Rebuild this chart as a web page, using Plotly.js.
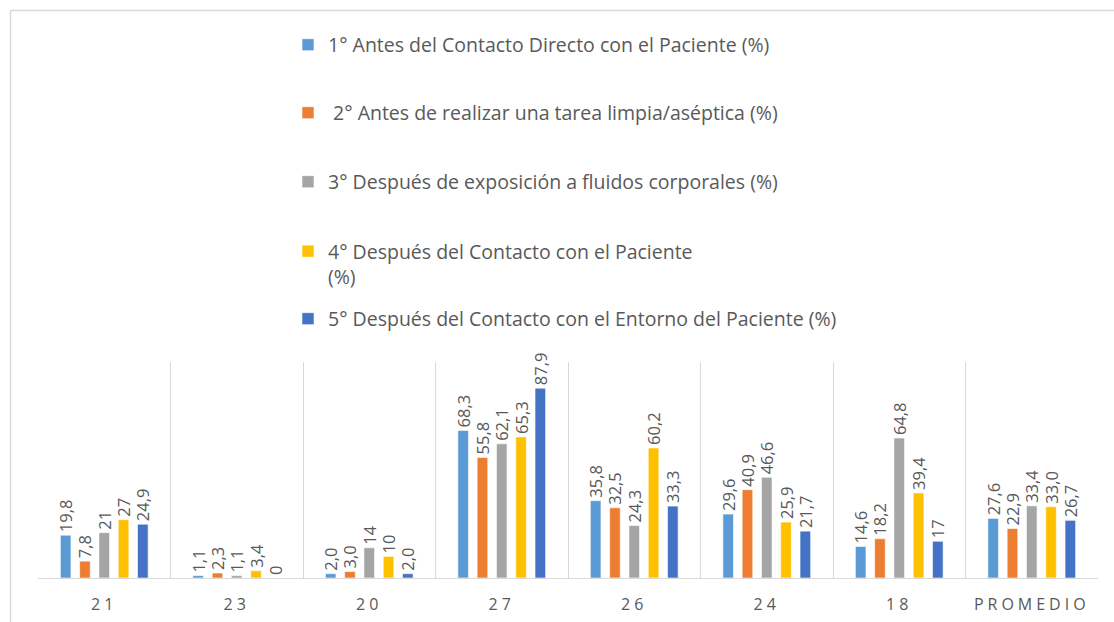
<!DOCTYPE html>
<html>
<head>
<meta charset="utf-8">
<script src="https://cdn.plot.ly/plotly-3.0.1.min.js"></script>
<style>
  html, body { margin: 0; padding: 0; background: #ffffff; }
  #chart { width: 1114px; height: 622px; }
</style>
</head>
<body>
<div id="chart"></div>
<script>
// Categories (x axis)
const categories = ['21', '23', '20', '27', '26', '24', '18', 'PROMEDIO'];

// Series names
const seriesNames = [
  '1° Antes del Contacto Directo con el Paciente (%)',
  '\u00a02° Antes de realizar una tarea limpia/aséptica (%)',
  '3° Después de exposición a fluidos corporales (%)',
  '4° Después del Contacto con el Paciente<br>(%)',
  '5° Después del Contacto con el Entorno del Paciente (%)'
];

// Series values
const s1 = [19.8, 1.1, 2.0, 68.3, 35.8, 29.6, 14.6, 27.6];
const s2 = [7.8, 2.3, 3.0, 55.8, 32.5, 40.9, 18.2, 22.9];
const s3 = [21, 1.1, 14, 62.1, 24.3, 46.6, 64.8, 33.4];
const s4 = [27, 3.4, 10, 65.3, 60.2, 25.9, 39.4, 33.0];
const s5 = [24.9, 0, 2.0, 87.9, 33.3, 21.7, 17, 26.7];

// Data labels as printed in the chart
const l1 = ['19,8', '1,1', '2,0', '68,3', '35,8', '29,6', '14,6', '27,6'];
const l2 = ['7,8', '2,3', '3,0', '55,8', '32,5', '40,9', '18,2', '22,9'];
const l3 = ['21', '1,1', '14', '62,1', '24,3', '46,6', '64,8', '33,4'];
const l4 = ['27', '3,4', '10', '65,3', '60,2', '25,9', '39,4', '33,0'];
const l5 = ['24,9', '0', '2,0', '87,9', '33,3', '21,7', '17', '26,7'];

const values = [s1, s2, s3, s4, s5];
const labels = [l1, l2, l3, l4, l5];
const colors = ['#5B9BD5', '#ED7D31', '#A5A5A5', '#FFC000', '#4472C4'];

const FONT = '"Open Sans", "Noto Sans", sans-serif';
const legendIds = ['legend', 'legend2', 'legend3', 'legend4', 'legend5'];

const traces = values.map((v, i) => ({
  type: 'bar',
  name: seriesNames[i],
  x: categories,
  y: v,
  text: labels[i],
  textposition: 'outside',
  textangle: -90,
  constraintext: 'none',
  cliponaxis: false,
  textfont: { family: FONT, size: 16.5, color: '#595959' },
  marker: { color: colors[i], line: { color: '#ffffff', width: 0.6 } },
  legend: legendIds[i],
  hoverinfo: 'x+y+name'
}));

// legend vertical positions (px from top of the figure)
const legendTops = [45, 113, 182, 245, 319];
const H = 622;
const legendLayout = {};
legendIds.forEach((id, i) => {
  legendLayout[id] = {
    xref: 'container', yref: 'container',
    x: 288 / 1114,
    y: 1 - legendTops[i] / H,
    xanchor: 'left',
    yanchor: i === 3 ? 'top' : 'middle',
    valign: 'top',
    bgcolor: 'rgba(0,0,0,0)',
    font: { family: FONT, size: 19.5, color: '#595959' },
    itemclick: false, itemdoubleclick: false
  };
});
legendLayout['legend4'].y = 1 - (legendTops[3] - 13) / H;

const L = 38, R = 1098, T = 362, B = 578;
const pw = R - L, ph = B - T;
const px = v => (v - L) / pw;
const py = v => (B - v) / ph;

const layout = Object.assign({
  width: 1114,
  height: 622,
  margin: { l: L, r: 1114 - R, t: T, b: H - B, pad: 0, autoexpand: false },
  paper_bgcolor: '#ffffff',
  plot_bgcolor: '#ffffff',
  barmode: 'group',
  bargap: 0.272,
  bargroupgap: 0.45,
  showlegend: true,
  font: { family: FONT, color: '#595959' },
  xaxis: {
    type: 'category',
    tickson: 'boundaries',
    showgrid: true,
    gridcolor: '#d9d9d9',
    gridwidth: 1,
    showline: true,
    linecolor: '#d9d9d9',
    linewidth: 1,
    mirror: false,
    ticks: '',
    tickangle: 0,
    automargin: false,
    ticklabelstandoff: 12,
    tickfont: { family: FONT, size: 16, color: '#595959' },
    zeroline: false,
    fixedrange: true
  },
  yaxis: {
    range: [0, 100],
    visible: true,
    showgrid: false,
    showticklabels: false,
    showline: false,
    ticks: '',
    zeroline: false,
    automargin: false,
    fixedrange: true
  },
  shapes: [
    { type: 'line', xref: 'paper', yref: 'paper', x0: px(10.5), x1: px(10.5), y0: py(10.5), y1: py(640), line: { color: '#d9d9d9', width: 1.5 } },
    { type: 'line', xref: 'paper', yref: 'paper', x0: px(10.5), x1: px(1130), y0: py(10.5), y1: py(10.5), line: { color: '#d9d9d9', width: 1.5 } }
  ]
}, legendLayout);

Plotly.newPlot('chart', traces, layout, { displayModeBar: false }).then(() => {
  document.querySelectorAll('.xtick text').forEach(t => { t.style.letterSpacing = '4px'; });
});
</script>
</body>
</html>
